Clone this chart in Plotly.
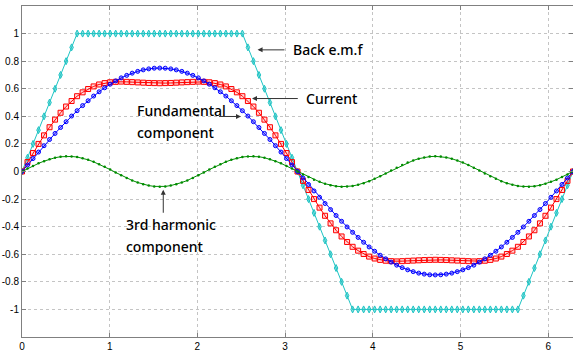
import numpy as np
import plotly.graph_objects as go

# electrical angle samples (rad), 101 points over one period
angle = np.linspace(0, 2 * np.pi, 101)

back_emf = [0.0, 0.1, 0.2, 0.3, 0.4, 0.5, 0.6, 0.7, 0.8, 0.9, 1.0,
            1.0, 1.0, 1.0, 1.0, 1.0, 1.0, 1.0, 1.0, 1.0, 1.0,
            1.0, 1.0, 1.0, 1.0, 1.0, 1.0, 1.0, 1.0, 1.0, 1.0,
            1.0, 1.0, 1.0, 1.0, 1.0, 1.0, 1.0, 1.0, 1.0, 1.0,
            0.9, 0.8, 0.7, 0.6, 0.5, 0.4, 0.3, 0.2, 0.1, 0.0,
            -0.1, -0.2, -0.3, -0.4, -0.5, -0.6, -0.7, -0.8, -0.9,
            -1.0, -1.0, -1.0, -1.0, -1.0, -1.0, -1.0, -1.0, -1.0, -1.0,
            -1.0, -1.0, -1.0, -1.0, -1.0, -1.0, -1.0, -1.0, -1.0, -1.0,
            -1.0, -1.0, -1.0, -1.0, -1.0, -1.0, -1.0, -1.0, -1.0, -1.0, -1.0,
            -0.9, -0.8, -0.7, -0.6, -0.5, -0.4, -0.3, -0.2, -0.1, 0.0]

current = [0, 0.068, 0.134, 0.200, 0.262, 0.321, 0.376, 0.426, 0.471, 0.511,
           0.546, 0.574, 0.598, 0.617, 0.631, 0.641, 0.647, 0.650, 0.652, 0.650,
           0.648, 0.646, 0.644, 0.642, 0.641, 0.640, 0.641, 0.642, 0.644, 0.646,
           0.648, 0.650, 0.652, 0.650, 0.647, 0.641, 0.631, 0.617, 0.598, 0.574,
           0.546, 0.511, 0.471, 0.426, 0.376, 0.321, 0.262, 0.200, 0.134, 0.068,
           0,
           -0.068, -0.134, -0.200, -0.262, -0.321, -0.376, -0.426, -0.471, -0.511,
           -0.546, -0.574, -0.598, -0.617, -0.631, -0.641, -0.647, -0.650, -0.652, -0.650,
           -0.648, -0.646, -0.644, -0.642, -0.641, -0.640, -0.641, -0.642, -0.644, -0.646,
           -0.648, -0.650, -0.652, -0.650, -0.647, -0.641, -0.631, -0.617, -0.598, -0.574,
           -0.546, -0.511, -0.471, -0.426, -0.376, -0.321, -0.262, -0.200, -0.134, -0.068,
           0]

fundamental = [0, 0.047, 0.094, 0.141, 0.187, 0.232, 0.276, 0.319, 0.361, 0.402,
               0.441, 0.478, 0.513, 0.547, 0.578, 0.607, 0.633, 0.657, 0.679, 0.697,
               0.713, 0.726, 0.737, 0.744, 0.749, 0.750, 0.749, 0.744, 0.737, 0.726,
               0.713, 0.697, 0.679, 0.657, 0.633, 0.607, 0.578, 0.547, 0.513, 0.478,
               0.441, 0.402, 0.361, 0.319, 0.276, 0.232, 0.187, 0.141, 0.094, 0.047,
               0,
               -0.047, -0.094, -0.141, -0.187, -0.232, -0.276, -0.319, -0.361, -0.402,
               -0.441, -0.478, -0.513, -0.547, -0.578, -0.607, -0.633, -0.657, -0.679, -0.697,
               -0.713, -0.726, -0.737, -0.744, -0.749, -0.750, -0.749, -0.744, -0.737, -0.726,
               -0.713, -0.697, -0.679, -0.657, -0.633, -0.607, -0.578, -0.547, -0.513, -0.478,
               -0.441, -0.402, -0.361, -0.319, -0.276, -0.232, -0.187, -0.141, -0.094, -0.047,
               0]

third_harmonic = [0, 0.021, 0.040, 0.059, 0.075, 0.089, 0.100, 0.107, 0.110, 0.109,
                  0.105, 0.096, 0.085, 0.070, 0.053, 0.034, 0.014, -0.007, -0.027, -0.047,
                  -0.065, -0.080, -0.093, -0.102, -0.108, -0.110, -0.108, -0.102, -0.093, -0.080,
                  -0.065, -0.047, -0.027, -0.007, 0.014, 0.034, 0.053, 0.070, 0.085, 0.096,
                  0.105, 0.109, 0.110, 0.107, 0.100, 0.089, 0.075, 0.059, 0.040, 0.021,
                  0,
                  -0.021, -0.040, -0.059, -0.075, -0.089, -0.100, -0.107, -0.110, -0.109,
                  -0.105, -0.096, -0.085, -0.070, -0.053, -0.034, -0.014, 0.007, 0.027, 0.047,
                  0.065, 0.080, 0.093, 0.102, 0.108, 0.110, 0.108, 0.102, 0.093, 0.080,
                  0.065, 0.047, 0.027, 0.007, -0.014, -0.034, -0.053, -0.070, -0.085, -0.096,
                  -0.105, -0.109, -0.110, -0.107, -0.100, -0.089, -0.075, -0.059, -0.040, -0.021,
                  0]

x_ticks = [0, 1, 2, 3, 4, 5, 6]
y_ticks = [-1, -0.8, -0.6, -0.4, -0.2, 0, 0.2, 0.4, 0.6, 0.8, 1]
y_tick_text = ["-1", "-0.8", "-0.6", "-0.4", "-0.2", "0", "0.2", "0.4", "0.6", "0.8", "1"]

CYAN = "rgb(30,196,196)"
RED = "rgb(255,0,0)"
BLUE = "rgb(0,0,255)"
GREEN = "rgb(0,140,0)"

fig = go.Figure()
fig.add_trace(go.Scatter(x=angle, y=back_emf, mode="lines+markers",
                         line=dict(color=CYAN, width=1),
                         marker=dict(symbol="diamond-tall", size=5, color="rgba(30,196,196,0.5)",
                                     line=dict(color=CYAN, width=1))))
fig.add_trace(go.Scatter(x=angle, y=current, mode="lines+markers",
                         line=dict(color=RED, width=1),
                         marker=dict(symbol="square", size=5, color="rgba(255,0,0,0.15)",
                                     line=dict(color=RED, width=1))))
fig.add_trace(go.Scatter(x=angle, y=fundamental, mode="lines+markers",
                         line=dict(color=BLUE, width=1),
                         marker=dict(symbol="circle", size=4, color="rgba(0,0,255,0.3)",
                                     line=dict(color=BLUE, width=1))))
fig.add_trace(go.Scatter(x=angle, y=third_harmonic, mode="lines+markers",
                         line=dict(color=GREEN, width=1),
                         marker=dict(symbol="circle", size=2.5, color=GREEN)))

TXT = dict(family="Noto Sans", size=14, color="#000000", weight=500)
ARROW = dict(showarrow=True, arrowhead=2, arrowsize=1, arrowwidth=1, arrowcolor="#333333",
             xref="x", yref="y", axref="x", ayref="y", text="")

annotations = [
    dict(x=2.686, y=0.882, ax=3.010, ay=0.882, **ARROW),
    dict(x=3.07, y=0.882, text="Back e.m.f", showarrow=False, xanchor="left", yanchor="middle", font=TXT),
    dict(x=2.623, y=0.529, ax=3.162, ay=0.529, **ARROW),
    dict(x=3.219, y=0.529, text="Current", showarrow=False, xanchor="left", yanchor="middle", font=TXT),
    dict(x=2.497, y=0.399, ax=2.230, ay=0.399, **ARROW),
    dict(x=1.292, y=0.44, text="Fundamental", showarrow=False, xanchor="left", yanchor="middle", font=TXT),
    dict(x=1.292, y=0.286, text="component", showarrow=False, xanchor="left", yanchor="middle", font=TXT),
    dict(x=1.611, y=-0.133, ax=1.611, ay=-0.310, **ARROW),
    dict(x=1.166, y=-0.382, text="3rd harmonic", showarrow=False, xanchor="left", yanchor="middle", font=TXT),
    dict(x=1.166, y=-0.544, text="component", showarrow=False, xanchor="left", yanchor="middle", font=TXT),
]

axis_common = dict(showline=True, linecolor="#808080", linewidth=1, mirror="ticks",
                   ticks="inside", ticklen=4, tickcolor="#808080",
                   showgrid=True, gridcolor="#c4c4c4", griddash="dot", gridwidth=1,
                   zeroline=False,
                   tickfont=dict(family="Liberation Sans", size=10, color="#000000"))

fig.update_layout(
    width=573, height=353,
    margin=dict(l=22, r=0, t=6, b=16, autoexpand=False),
    paper_bgcolor="white", plot_bgcolor="white",
    showlegend=False,
    annotations=annotations,
    xaxis=dict(range=[0, 2 * np.pi], tickvals=x_ticks, ticktext=[str(v) for v in x_ticks], **axis_common),
    yaxis=dict(range=[-1.2, 1.2], tickvals=y_ticks, ticktext=y_tick_text, **axis_common),
)

fig.write_html("out.html", config={"displayModeBar": False},
               post_script="document.body.style.margin='0';document.body.style.overflow='hidden';")
